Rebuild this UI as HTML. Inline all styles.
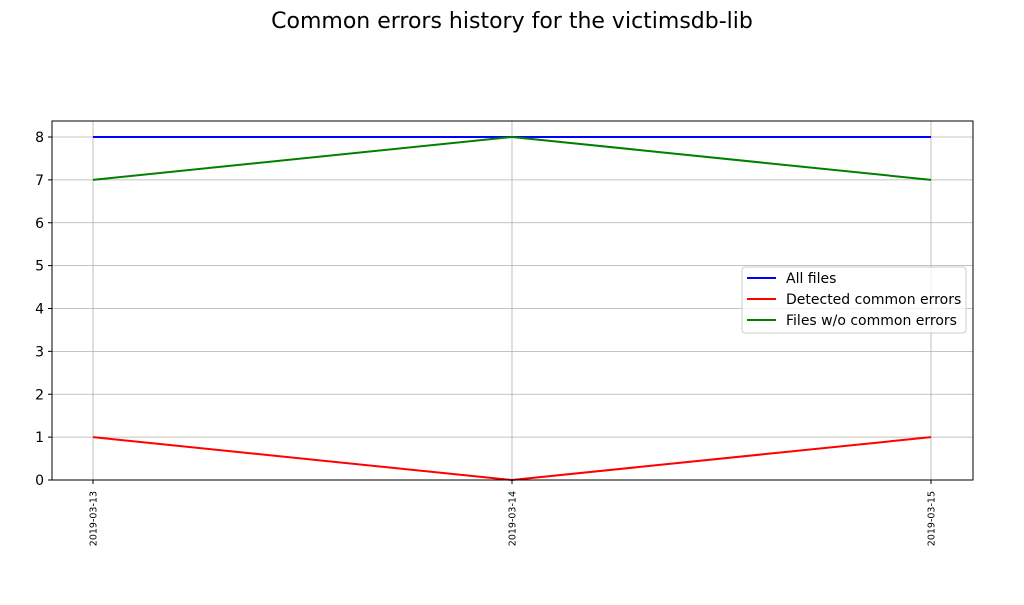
<!DOCTYPE html>
<html><head><meta charset="utf-8"><style>
body{margin:0;background:#fff;}
svg text{font-family:"DejaVu Sans","Liberation Sans",sans-serif;}
</style></head><body>
<svg id="chart" width="1024" height="600" xmlns="http://www.w3.org/2000/svg">
<rect width="1024" height="600" fill="#fff"/>
<text x="512" y="28" font-size="22" text-anchor="middle">Common errors history for the victimsdb-lib</text>
<g id="grid"></g>
<g id="series"></g>
<rect x="52" y="121" width="921" height="359" fill="none" stroke="#000" stroke-width="1"/>
<g id="axes"></g>
<g>
<rect x="742" y="267" width="224" height="66" rx="3" fill="#fff" fill-opacity="0.8" stroke="#ccc"/>
<line x1="747" y1="278" x2="776" y2="278" stroke="#0000ff" stroke-width="2"/>
<text x="786" y="283" font-size="14">All files</text>
<line x1="747" y1="299" x2="776" y2="299" stroke="#ff0000" stroke-width="2"/>
<text x="786" y="304" font-size="14">Detected common errors</text>
<line x1="747" y1="320" x2="776" y2="320" stroke="#008000" stroke-width="2"/>
<text x="786" y="325" font-size="14">Files w/o common errors</text>
</g>
</svg>
<script>
const categories=["2019-03-13","2019-03-14","2019-03-15"];
const allFiles=[8,8,8];
const detected=[1,0,1];
const withoutErrors=[7,8,7];
const yTicks=[0,1,2,3,4,5,6,7,8];
const NS="http://www.w3.org/2000/svg";
function xs(i){return 93+i*419;}
function ys(v){return 480-v*42.875;}
function mk(tag,attrs,parent){const e=document.createElementNS(NS,tag);for(const k in attrs)e.setAttribute(k,attrs[k]);document.getElementById(parent).appendChild(e);return e;}
yTicks.forEach(v=>{
 const g=mk('line',{x1:52,x2:973,y1:ys(v),y2:ys(v),stroke:'#b0b0b0','stroke-width':0.8},'grid');
 
 
 mk('line',{x1:48,x2:52,y1:ys(v),y2:ys(v),stroke:'#000'},'axes');
 const t=mk('text',{x:44,y:ys(v)+5,'font-size':14,'text-anchor':'end'},'axes');
 t.textContent=v;
 
 
});
categories.forEach((c,i)=>{
 const g=mk('line',{x1:xs(i),x2:xs(i),y1:121,y2:480,stroke:'#b0b0b0','stroke-width':0.8},'grid');
 
 
 mk('line',{x1:xs(i),x2:xs(i),y1:480,y2:484,stroke:'#000'},'axes');
 const t=mk('text',{x:0,y:0,'font-size':9.5,'text-anchor':'end',transform:`translate(${xs(i)+3.5},${491}) rotate(-90)`},'axes');
 t.textContent=c;
 
 
});
[[allFiles,'#0000ff','line-all-files'],[detected,'#ff0000','line-detected-common-errors'],[withoutErrors,'#008000','line-files-without-errors']].forEach(([d,col,name])=>{
 const p=mk('polyline',{points:d.map((v,i)=>xs(i)+','+ys(v)).join(' '),fill:'none',stroke:col,'stroke-width':2},'series');
 
 
});
</script>
</body></html>
